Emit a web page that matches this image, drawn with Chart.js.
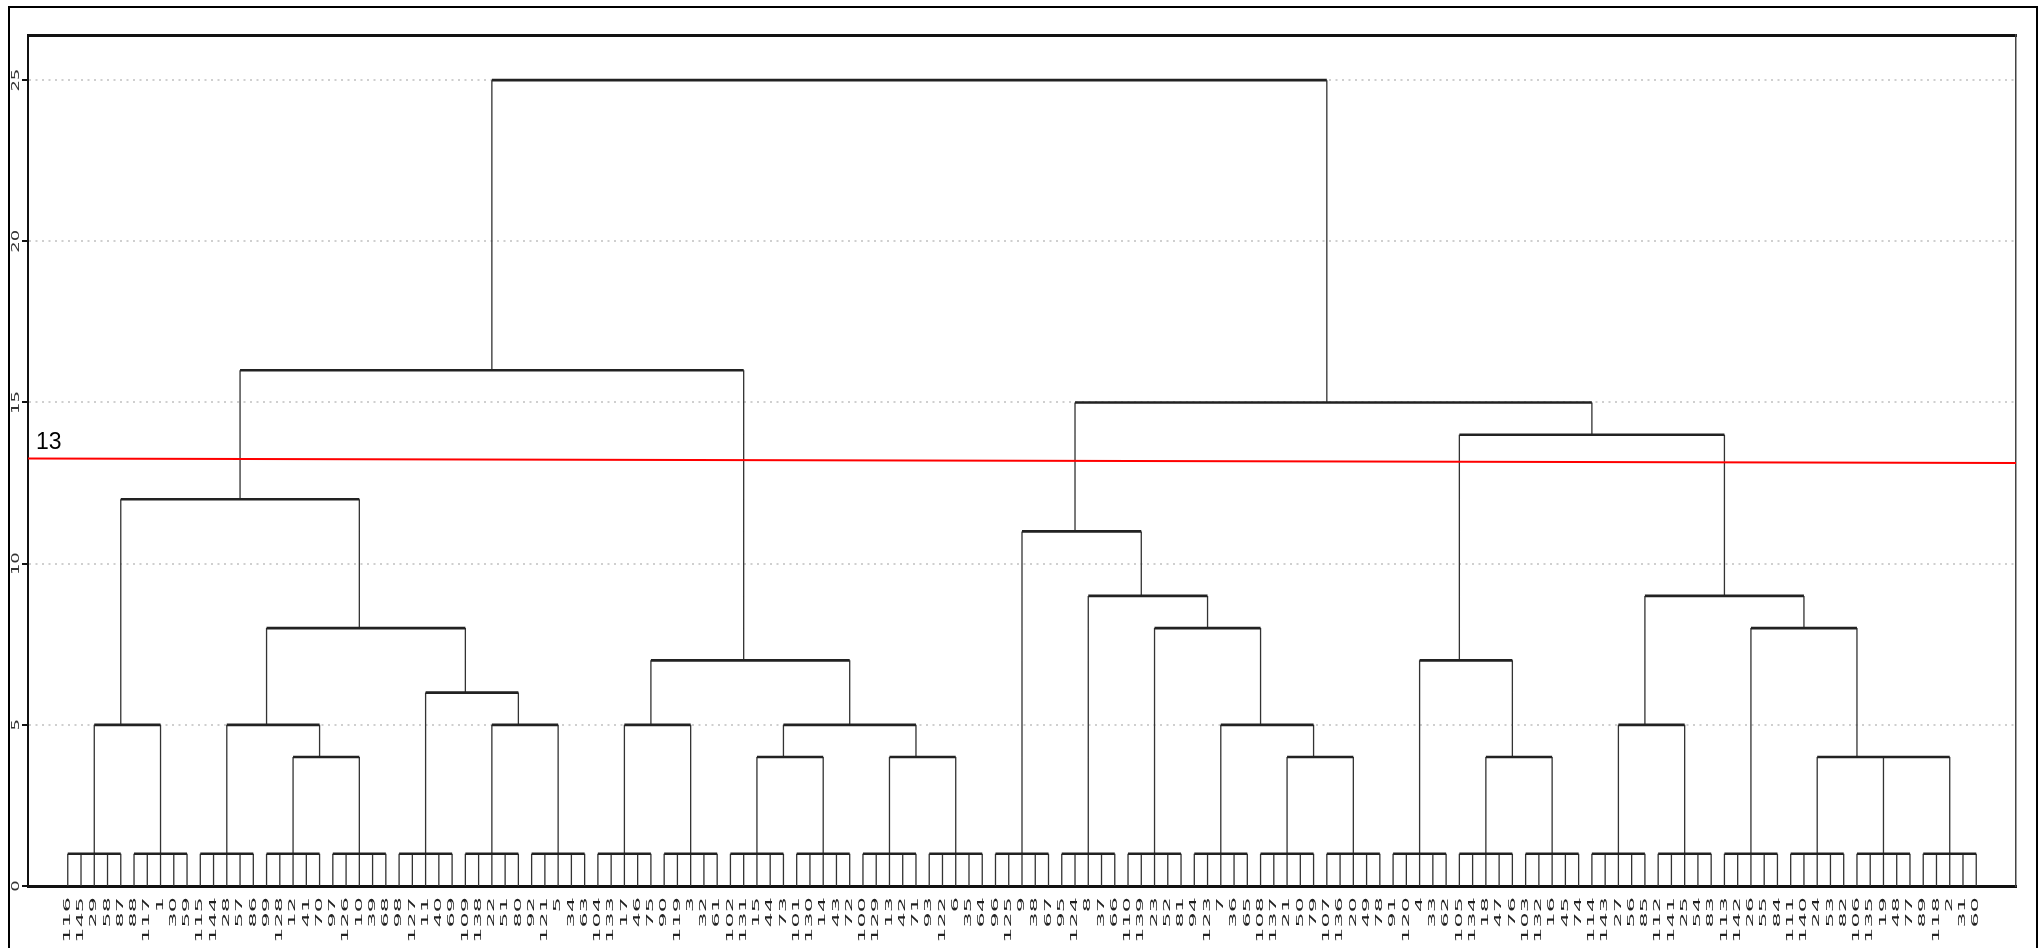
<!DOCTYPE html>
<html>
<head>
<meta charset="utf-8">
<title>Dendrogram</title>
<script src="https://cdn.jsdelivr.net/npm/chart.js@4.4.1/dist/chart.umd.min.js"></script>
<style>
  html, body { margin: 0; padding: 0; background: #fff; }
  #wrap { position: relative; width: 2044px; height: 948px; overflow: hidden; }
  /* outer frame of the figure, open at the bottom like the original crop */
  #frame { position: absolute; left: 8px; top: 6px; width: 2030px; height: 1000px;
           border: 2px solid #000; box-sizing: border-box; pointer-events: none; }
</style>
</head>
<body>
<div id="wrap">
  <canvas id="dendro"></canvas>
  <div id="frame"></div>
</div>
<script>
// leaf order along the bottom axis, as printed under the tree
const leafLabels = [
  '116','145','29','58','87',   '88','117','1','30','59',     '115','144','28','57','86',
  '99','128','12','41','70',    '97','126','10','39','68',    '98','127','11','40','69',
  '109','138','22','51','80',   '92','121','5','34','63',     '104','133','17','46','75',
  '90','119','3','32','61',     '102','131','15','44','73',   '101','130','14','43','72',
  '100','129','13','42','71',   '93','122','6','35','64',     '96','125','9','38','67',
  '95','124','8','37','66',     '110','139','23','52','81',   '94','123','7','36','65',
  '108','137','21','50','79',   '107','136','20','49','78',   '91','120','4','33','62',
  '105','134','18','47','76',   '103','132','16','45','74',   '114','143','27','56','85',
  '112','141','25','54','83',   '113','142','26','55','84',   '111','140','24','53','82',
  '106','135','19','48','77',   '89','118','2','31','60'
];

// every run of five neighbouring leaves joins at this height
const groupSize = 5;
const groupHeight = 1;

// higher joins: gN = Nth leaf group, mN = Nth entry of these arrays
const mergeLeft   = ['g1','g4','g3','g7','g6','m2','m0','g9','g11','g13','m8','m7','m6','g19',
                     'g18','g17','g16','g15','g22','g21','g24','g28','g27','g26','m20','m19','m17','m12'];
const mergeRight  = ['g2','g5','m1','g8','m3','m4','m5','g10','g12','g14','m9','m10','m11','g20',
                     'm13','m14','m15','m16','g23','m18','g25','g29','m21','m22','m23','m24','m25','m26'];
const mergeHeight = [5, 4, 5, 5, 6, 8, 12, 5, 4, 4, 5, 7, 16, 4,
                     5, 8, 9, 11, 4, 7, 5, 4, 4, 8, 9, 14, 15, 25];

// red cut line across the tree (left end, right end) and its label
const cutLine = [13.26, 13.12];
const cutLabel = '13';

const yTicks = [0, 5, 10, 15, 20, 25];

const X_MIN = -3, X_MAX = 147, Y_MAX = 26.4;

// build the bracket segments from the join tables
const nodes = {};
const joinLines = [];   // horizontal bars
const stemLines = [];   // vertical stems

function join(id, children, height) {
    const first = children[0];
    const last = children[children.length - 1];
    joinLines.push({x: first.x, y: height}, {x: last.x, y: height}, {x: last.x, y: null});
    children.forEach(c => {
        stemLines.push({x: c.x, y: c.h}, {x: c.x, y: height}, {x: c.x, y: null});
    });
    // the plot puts each node on a leaf slot
    nodes[id] = {x: Math.floor((first.x + last.x) / 2), h: height};
}

leafLabels.forEach((_, i) => { nodes['l' + i] = {x: i, h: 0}; });
for (let g = 0; g * groupSize < leafLabels.length; g++) {
    const kids = [];
    for (let k = 0; k < groupSize; k++) kids.push(nodes['l' + (g * groupSize + k)]);
    join('g' + (g + 1), kids, groupHeight);
}
mergeHeight.forEach((h, i) => {
    join('m' + i, [nodes[mergeLeft[i]], nodes[mergeRight[i]]], h);
});

// the source figure is stretched vertically, so its tick text is too
const labelShape = {
    id: 'labelShape',
    beforeDraw(chart) {
        const xs = chart.scales.x;
        const ys = chart.scales.y;
        if (!xs._shaped) {
            const drawX = xs.drawLabels;
            xs.drawLabels = function (area) {
                const ctx = this.ctx;
                ctx.save();
                ctx.translate(0, this.top);
                ctx.scale(1, 2.8);
                ctx.translate(0, -this.top);
                drawX.call(this, area);
                ctx.restore();
            };
            xs._shaped = true;
        }
        if (!ys._shaped) {
            const drawY = ys.drawLabels;
            ys.drawLabels = function (area) {
                const items = this.getLabelItems(area);
                const cx = items.length ? items[0].options.translation[0] : 0;
                const ctx = this.ctx;
                ctx.save();
                ctx.translate(cx, 0);
                ctx.scale(0.58, 1);
                ctx.translate(-cx, 0);
                drawY.call(this, area);
                ctx.restore();
            };
            ys._shaped = true;
        }
    },
    afterDatasetsDraw(chart) {
        const {ctx, chartArea, scales} = chart;
        ctx.save();
        ctx.font = '23px "Liberation Sans", Arial, sans-serif';
        ctx.fillStyle = '#000';
        ctx.textBaseline = 'alphabetic';
        ctx.fillText(cutLabel, chartArea.left + 8, scales.y.getPixelForValue(cutLine[0]) - 10);
        ctx.restore();
    }
};

new Chart(document.getElementById('dendro'), {
    type: 'line',
    data: {
        datasets: [
            {
                label: 'cut',
                data: [{x: X_MIN, y: cutLine[0]}, {x: X_MAX, y: cutLine[1]}],
                borderColor: '#ff0000',
                borderWidth: 2,
                pointRadius: 0
            },
            {
                label: 'joins',
                data: joinLines,
                borderColor: '#222222',
                borderWidth: 2.6,
                pointRadius: 0,
                spanGaps: false
            },
            {
                label: 'stems',
                data: stemLines,
                borderColor: '#333333',
                borderWidth: 1.3,
                pointRadius: 0,
                spanGaps: false
            }
        ]
    },
    options: {
        responsive: true,
        maintainAspectRatio: false,
        animation: false,
        events: [],
        layout: { padding: { top: 35, right: 28, bottom: 0, left: 0 } },
        plugins: {
            legend: { display: false },
            tooltip: { enabled: false }
        },
        scales: {
            x: {
                type: 'linear',
                min: X_MIN,
                max: X_MAX,
                afterBuildTicks: s => { s.ticks = leafLabels.map((_, i) => ({value: i})); },
                afterFit: s => { s.height = 62; },
                grid: { display: false, drawTicks: false },
                border: { display: true, color: '#111', width: 3 },
                ticks: {
                    autoSkip: false,
                    minRotation: 90,
                    maxRotation: 90,
                    padding: 4,
                    color: '#222',
                    font: { family: 'DejaVu Sans', size: 8.5 },
                    callback: v => leafLabels[v]
                }
            },
            xt: {
                type: 'linear',
                position: 'top',
                min: X_MIN,
                max: X_MAX,
                afterFit: s => { s.height = 0; },
                grid: { display: false, drawTicks: false },
                ticks: { display: false },
                border: { display: true, color: '#111', width: 3 }
            },
            y: {
                min: 0,
                max: Y_MAX,
                afterBuildTicks: s => { s.ticks = yTicks.map(v => ({value: v})); },
                afterFit: s => { s.width = 28; },
                grid: { color: '#cfcfcf', lineWidth: 2, tickLength: 6, tickColor: '#111', tickWidth: 2 },
                border: { display: true, color: '#111', width: 2, dash: [2, 4.5] },
                ticks: {
                    minRotation: 90,
                    maxRotation: 90,
                    crossAlign: 'center',
                    padding: -6,
                    color: '#333',
                    font: { family: 'DejaVu Sans', size: 18 }
                }
            },
            yr: {
                position: 'right',
                min: 0,
                max: Y_MAX,
                afterFit: s => { s.width = 0; },
                grid: { display: false, drawTicks: false },
                ticks: { display: false },
                border: { display: true, color: '#444', width: 1.5 }
            }
        }
    },
    plugins: [labelShape]
});
</script>
</body>
</html>
